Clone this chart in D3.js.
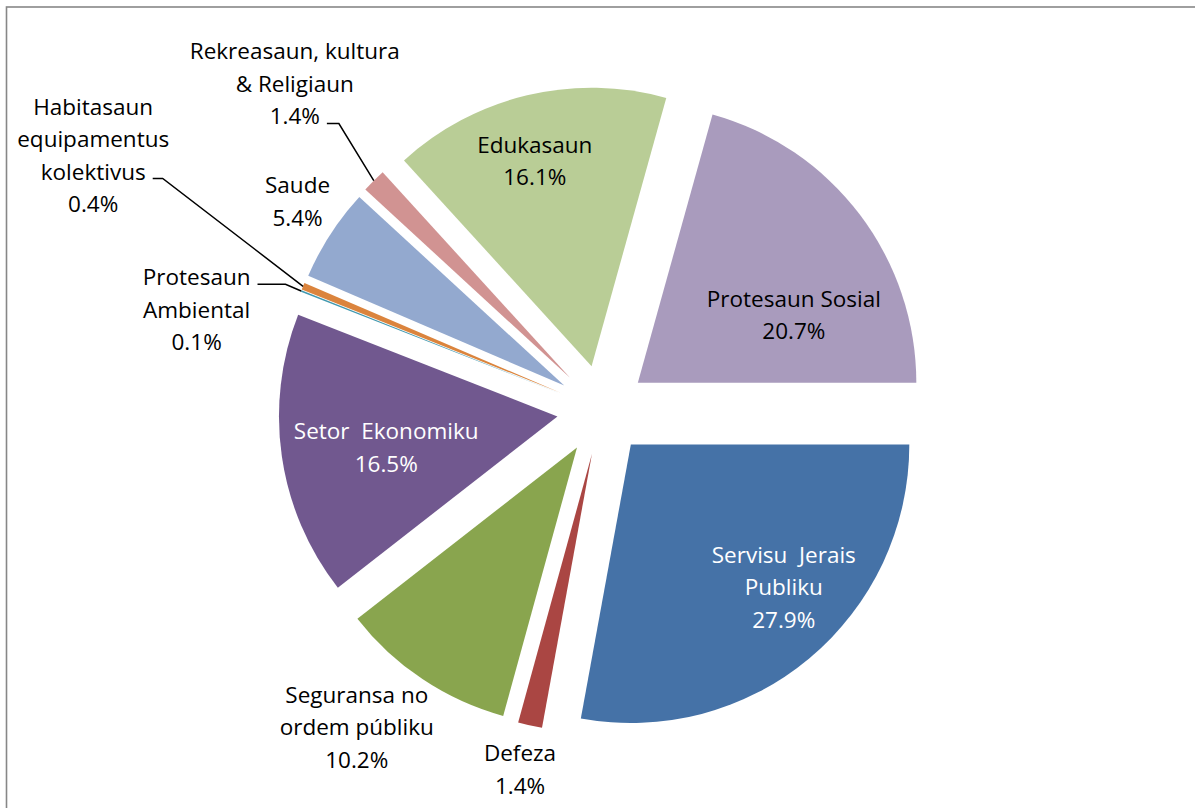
<!DOCTYPE html>
<html>
<head>
<meta charset="utf-8">
<script src="https://cdn.jsdelivr.net/npm/d3@7"></script>
<style>
  html, body { margin: 0; padding: 0; background: #ffffff; }
  svg { display: block; }
  text { white-space: pre; }
</style>
</head>
<body>
<svg id="chart" width="1195" height="808"></svg>
<script>
// ---- data ----
const categories = [
  "Servisu  Jerais Publiku",
  "Defeza",
  "Seguransa no ordem públiku",
  "Setor  Ekonomiku",
  "Protesaun Ambiental",
  "Habitasaun equipamentus kolektivus",
  "Saude",
  "Rekreasaun, kultura & Religiaun",
  "Edukasaun",
  "Protesaun Sosial"
];
const labelLines = [
  ["Servisu  Jerais", "Publiku"],
  ["Defeza"],
  ["Seguransa no", "ordem públiku"],
  ["Setor  Ekonomiku"],
  ["Protesaun", "Ambiental"],
  ["Habitasaun", "equipamentus", "kolektivus"],
  ["Saude"],
  ["Rekreasaun, kultura", "& Religiaun"],
  ["Edukasaun"],
  ["Protesaun Sosial"]
];
const values = [27.9, 1.4, 10.2, 16.5, 0.1, 0.4, 5.4, 1.4, 16.1, 20.7];
const colors = ["#4572A7", "#AA4643", "#89A54E", "#71588F", "#4198AF",
                "#DB843D", "#93A9CF", "#D19392", "#B9CD96", "#A99BBD"];

// ---- layout ----
const W = 1195, H = 808;
const cx = 602, cy = 410, R = 278.5, explode = 45;
const fs = 22.5, lh = 32.5;
// label block placement, polar from pie centre: [angle deg clockwise from 12 o'clock, distance]
const labelPolar = [
  [134.3, 254], [192.85, 368.7], [217.7, 401], [260.15, 219], [283.9, 417.6],
  [296.6, 569], [304.4, 369], [316.7, 448], [344.9, 258], [63.7, 214]
];
const whiteText = new Set([0, 3]);
// leader lines: which text line they start at and horizontal run length
const leaders = { 4: { line: 0, run: 28 }, 5: { line: 2, run: 10 }, 7: { line: 2, run: 12 } };

const svg = d3.select("#chart");

svg.append("rect")
  .attr("x", 6.5).attr("y", 7)
  .attr("width", W + 20).attr("height", H + 20)
  .attr("fill", "none")
  .attr("stroke", "#878787")
  .attr("stroke-width", 1.6);

const pie = d3.pie().sort(null).value(d => d)
  .startAngle(Math.PI / 2).endAngle(Math.PI / 2 + 2 * Math.PI);
const arcs = pie(values);
const arc = d3.arc().innerRadius(0).outerRadius(R);

const dir = a => [Math.sin(a), -Math.cos(a)];

const g = svg.append("g").attr("transform", `translate(${cx},${cy})`);

g.selectAll("path.slice")
  .data(arcs)
  .join("path")
  .attr("class", "slice")
  .attr("fill", (d, i) => colors[i])
  .attr("transform", d => {
    const m = (d.startAngle + d.endAngle) / 2;
    const [dx, dy] = dir(m);
    return `translate(${dx * explode},${dy * explode})`;
  })
  .attr("d", arc);

// labels
const fmt = d3.format(".1f");
const labelG = svg.append("g")
  .attr("font-family", "'Open Sans', 'Noto Sans', sans-serif")
  .attr("font-size", fs)
  .attr("text-anchor", "middle");

arcs.forEach((d, i) => {
  const lines = labelLines[i].concat([fmt(values[i]) + "%"]);
  const [ang, dist] = labelPolar[i];
  const a = ang * Math.PI / 180;
  const [ux, uy] = dir(a);
  const bx = cx + ux * dist, by = cy + uy * dist;
  const n = lines.length;
  const texts = lines.map((s, k) => {
    const yc = by + (k - (n - 1) / 2) * lh;
    return labelG.append("text")
      .attr("x", bx)
      .attr("y", yc + 0.357 * fs)
      .attr("fill", whiteText.has(i) ? "#ffffff" : "#000000")
      .text(s);
  });
  if (leaders[i]) {
    const L = leaders[i];
    const t = texts[L.line];
    const w = t.node().getComputedTextLength();
    const y0 = +t.attr("y") - 1;
    const x0 = bx + w / 2 + 7;
    const m = (d.startAngle + d.endAngle) / 2;
    const [ex, ey] = dir(m);
    const x2 = cx + ex * (R + explode), y2 = cy + ey * (R + explode);
    svg.append("path")
      .attr("d", d3.line()([[x0, y0], [x0 + L.run, y0], [x2, y2]]))
      .attr("fill", "none")
      .attr("stroke", "#000000")
      .attr("stroke-width", 1.5);
  }
});
</script>
</body>
</html>
